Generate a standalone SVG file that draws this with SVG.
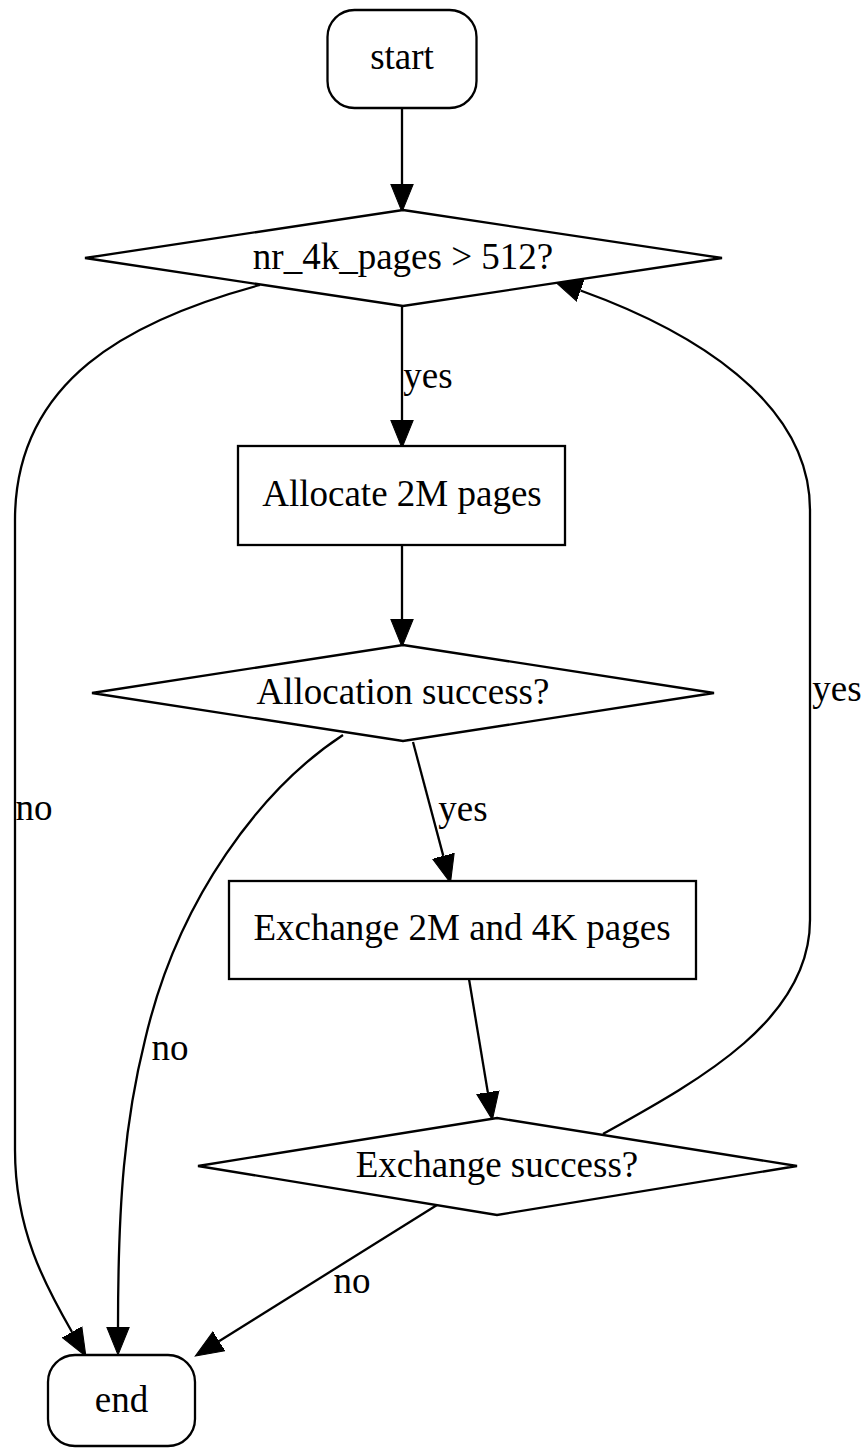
<svg xmlns="http://www.w3.org/2000/svg" width="866" height="1453" viewBox="0 0 866 1453">
<style>
.n{fill:#fff;stroke:#000;stroke-width:2.3}
.t{font-family:"Liberation Serif","Times New Roman",serif;font-size:37px;fill:#000;text-anchor:middle}
.e{fill:none;stroke:#000;stroke-width:2.3}
</style>
<defs>
<marker id="ah" markerUnits="userSpaceOnUse" markerWidth="30" markerHeight="24" refX="0" refY="11" orient="auto" viewBox="0 0 28 22">
<path d="M0,0.5 L26,11 L0,21.5 Z" fill="#000" stroke="#000" stroke-width="1"/>
</marker>
</defs>
<rect width="866" height="1453" fill="#fff"/>
<g id="connectors">
<path class="e" d="M402,108 L402,184" marker-end="url(#ah)"/>
<path class="e" d="M402,306 L402,420" marker-end="url(#ah)"/>
<path class="e" d="M402,545 L402,619" marker-end="url(#ah)"/>
<path class="e" d="M413,742 L443.3,855.9" marker-end="url(#ah)"/>
<path class="e" d="M469,979 L487.8,1092.3" marker-end="url(#ah)"/>
<path class="e" d="M437,1205 L219,1341.2" marker-end="url(#ah)"/>
<path class="e" d="M260,285 C130,320 15,380 15,520 L15,1150 C15,1230 45,1285 72,1332" marker-end="url(#ah)"/>
<path class="e" d="M343,735 C262,788 178,898 145,1040 C125,1120 118,1200 118,1327" marker-end="url(#ah)"/>
<path class="e" d="M603,1134 C700,1080 810,1020 810,920 L810,510 C810,400 690,330 580.5,290.5" marker-end="url(#ah)"/>
<text class="t" x="428" y="388">yes</text>
<text class="t" x="463" y="821">yes</text>
<text class="t" x="837" y="701">yes</text>
<text class="t" x="34" y="820">no</text>
<text class="t" x="170" y="1060">no</text>
<text class="t" x="352" y="1293">no</text>
</g>
<g id="start">
<rect class="n" x="327.5" y="10" width="149" height="98" rx="27" ry="27"/>
<text class="t" x="402" y="69">start</text>
</g>
<g id="check4k">
<polygon class="n" points="403,210 722,258 403,306 85,258"/>
<text class="t" x="403" y="269">nr_4k_pages &gt; 512?</text>
</g>
<g id="alloc">
<rect class="n" x="238" y="446" width="327" height="99"/>
<text class="t" x="402" y="506">Allocate 2M pages</text>
</g>
<g id="allocok">
<polygon class="n" points="403,645 714,693 403,741 92,693"/>
<text class="t" x="403" y="704">Allocation success?</text>
</g>
<g id="exchange">
<rect class="n" x="229" y="881" width="467" height="98"/>
<text class="t" x="462" y="940">Exchange 2M and 4K pages</text>
</g>
<g id="exchok">
<polygon class="n" points="497,1118 797,1166 497,1215 198,1166"/>
<text class="t" x="497" y="1177">Exchange success?</text>
</g>
<g id="end">
<rect class="n" x="48" y="1355" width="147" height="91" rx="27" ry="27"/>
<text class="t" x="121.5" y="1412">end</text>
</g>
</svg>
